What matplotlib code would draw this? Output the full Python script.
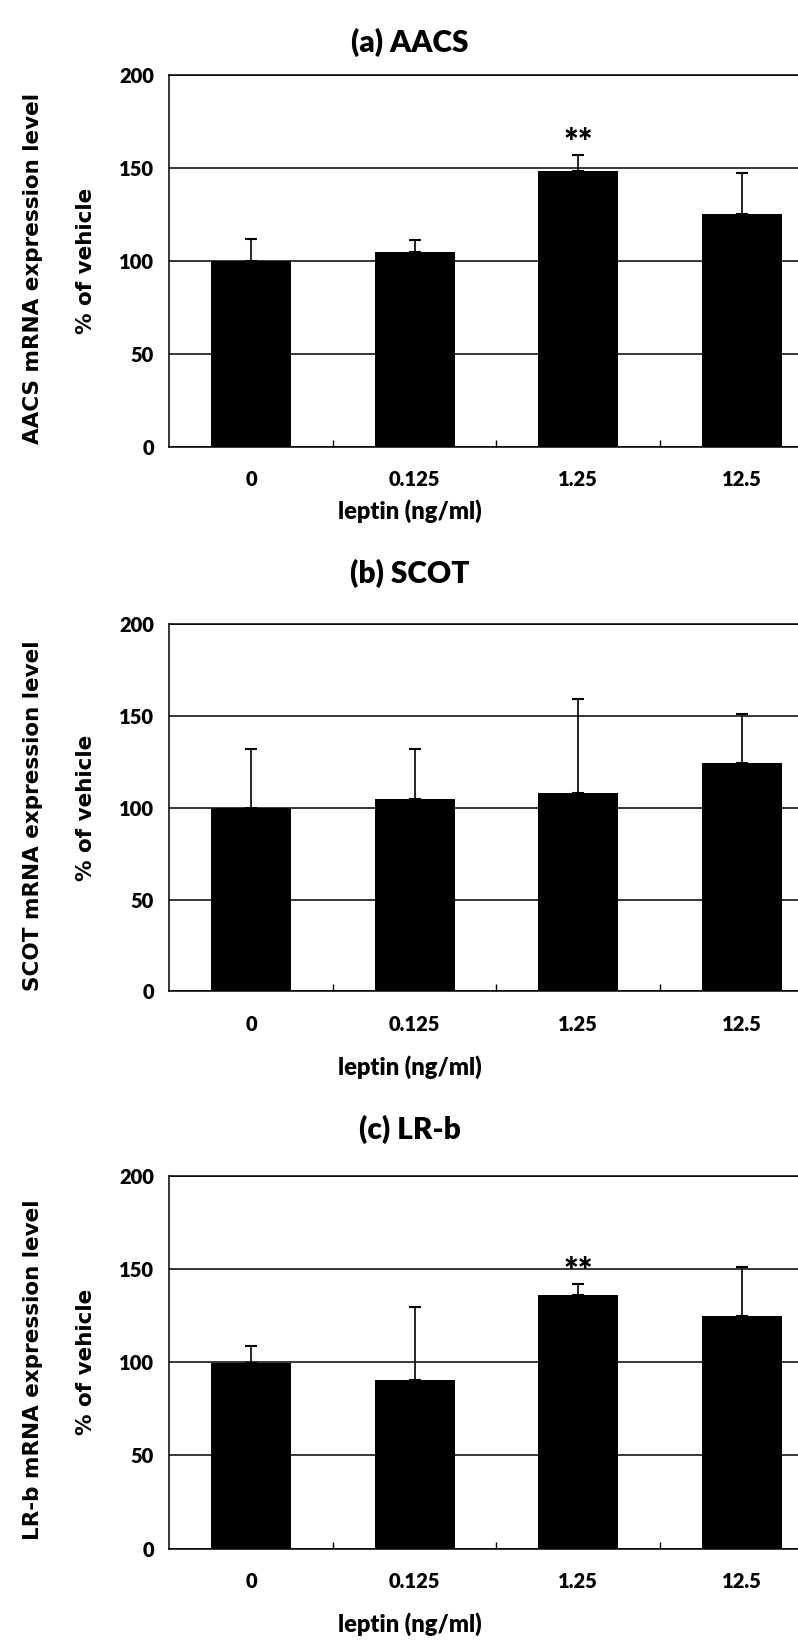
import numpy as np
import matplotlib
matplotlib.use("Agg")
import matplotlib.pyplot as plt

doses = ["0", "0.125", "1.25", "12.5"]

aacs_mean = [100, 104.6, 148.7, 125.5]
aacs_err = [12, 6.5, 8.5, 22]

scot_mean = [100, 105, 108, 124.4]
scot_err = [32.3, 26.8, 51.4, 26.9]

lrb_mean = [99.5, 90.5, 136.2, 124.5]
lrb_err = [9.3, 39, 5.7, 26.6]

titles = ["(a) AACS", "(b) SCOT", "(c) LR-b"]
ylabels = ["AACS mRNA expression level", "SCOT mRNA expression level", "LR-b mRNA expression level"]
stars = [[None, None, "**", None], [None, None, None, None], [None, None, "**", None]]

means = [aacs_mean, scot_mean, lrb_mean]
errs = [aacs_err, scot_err, lrb_err]

W, H = 798, 1641
# axes boxes in pixels: top, bottom
boxes = [(75.3, 446.6), (624.3, 991.4), (1175.5, 1548.8)]
title_y = [42, 573, 1129.5]
xlab_y = [511, 1067, 1624]
ax_left, ax_right = 169.4, 823.4

label_font = "Lato"
wt = "heavy"

fig = plt.figure(figsize=(W / 100, H / 100), dpi=100)

for i in range(3):
    top, bot = boxes[i]
    ax = fig.add_axes([ax_left / W, 1 - bot / H, (ax_right - ax_left) / W, (bot - top) / H])
    x = np.arange(len(doses))
    ax.bar(x, means[i], width=0.49, color="black", zorder=3)
    ax.errorbar(x, means[i], yerr=[np.zeros(len(doses)), errs[i]], fmt="none",
                ecolor="black", elinewidth=1.2, capsize=4.5, capthick=1.5, zorder=2)
    for j, s in enumerate(stars[i]):
        if s:
            ax.text(x[j], means[i][j] + errs[i][j] + 6, s, ha="center", va="center",
                    fontsize=25, fontweight=wt, family=label_font)

    ax.set_xlim(-0.5, 3.5)
    ax.set_ylim(0, 200)
    ax.set_yticks([0, 50, 100, 150, 200])
    ax.set_xticks(x)
    ax.set_xticklabels(doses)
    ax.set_xticks([0.5, 1.5, 2.5], minor=True)
    ax.tick_params(axis="x", which="major", length=0, pad=17)
    ax.tick_params(axis="x", which="minor", direction="in", length=5, width=1)
    ax.tick_params(axis="y", length=0, pad=11)
    for lab in ax.get_xticklabels() + ax.get_yticklabels():
        lab.set_fontfamily(label_font)
        lab.set_fontweight(wt)
        lab.set_fontsize(14.5)
    ax.yaxis.grid(True, color="black", linewidth=1.1, zorder=0)
    ax.set_axisbelow(True)
    for sp in ax.spines.values():
        sp.set_linewidth(1.1)

    fig.text(410 / W, 1 - title_y[i] / H, titles[i], ha="center", va="center",
             fontsize=21.5, fontweight=wt, family=label_font)
    fig.text(410 / W, 1 - xlab_y[i] / H, "leptin (ng/ml)", ha="center", va="center",
             fontsize=17, fontweight=wt, family=label_font)
    ymid = 1 - (top + bot) / 2 / H
    fig.text(33.5 / W, ymid - 8 / H, ylabels[i], rotation=90, ha="center", va="center",
             fontsize=15.5, fontweight="bold", family="DejaVu Sans")
    fig.text(86 / W, ymid, "% of vehicle", rotation=90, ha="center", va="center",
             fontsize=15.5, fontweight="bold", family="DejaVu Sans")

plt.savefig("out.png", dpi=100)
